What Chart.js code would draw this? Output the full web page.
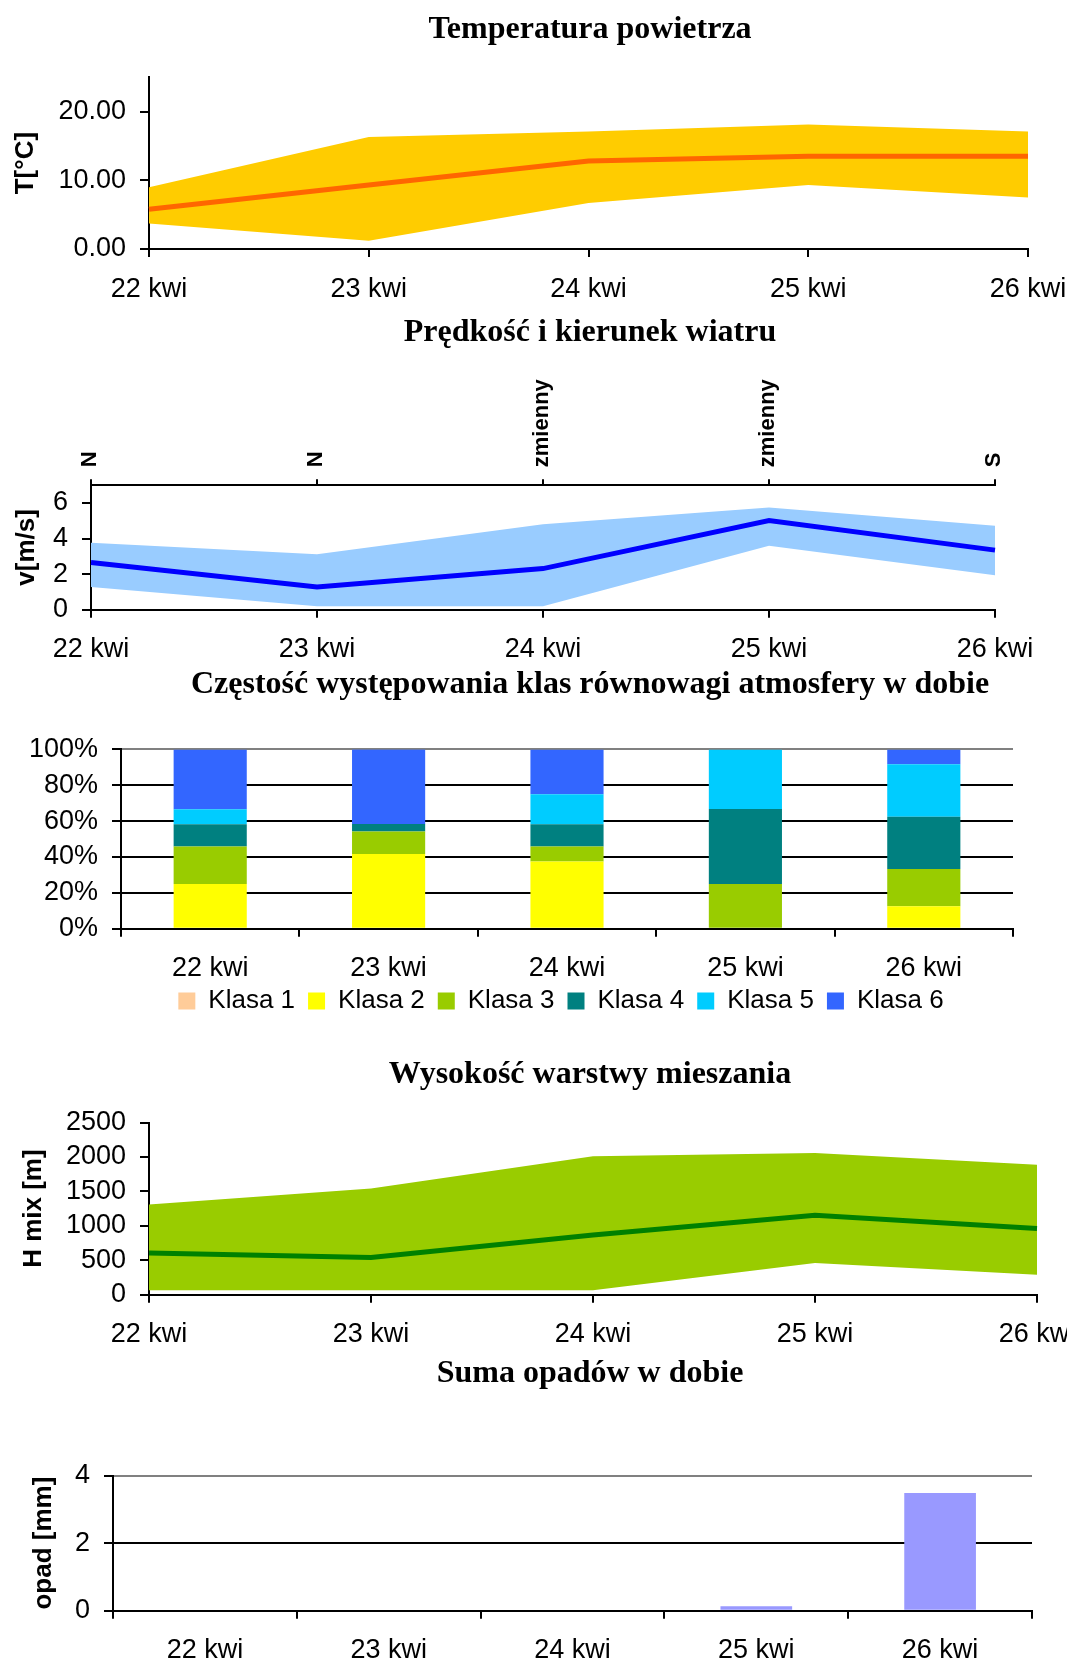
<!DOCTYPE html>
<html><head><meta charset="utf-8">
<script src="https://cdn.jsdelivr.net/npm/chart.js@4.4.1/dist/chart.umd.min.js"></script>
<style>
html,body{margin:0;padding:0;background:#fff;overflow:hidden;width:1067px;height:1664px;position:relative;}
canvas{position:absolute;left:0;}
</style></head><body>
<canvas id="c1"></canvas>
<canvas id="c2"></canvas>
<canvas id="c3"></canvas>
<canvas id="c4"></canvas>
<canvas id="c5"></canvas>
<script>
// ---- data ----
const days = ['22 kwi', '23 kwi', '24 kwi', '25 kwi', '26 kwi'];

const tempMean = [5.8, 9.3, 12.8, 13.5, 13.5];
const tempMax  = [9.0, 16.3, 17.1, 18.1, 17.1];
const tempMin  = [3.7, 1.2, 6.7, 9.3, 7.5];
const tempTicks = [0, 10, 20];

const windDir  = ['N', 'N', 'zmienny', 'zmienny', 'S'];
const windMean = [2.65, 1.28, 2.31, 5.01, 3.35];
const windMax  = [3.76, 3.12, 4.81, 5.75, 4.72];
const windMin  = [1.28, 0.19, 0.19, 3.59, 1.94];
const windTicks = [0, 2, 4, 6];

const klasa1 = [0, 0, 0, 0, 0];
const klasa2 = [25.0, 41.7, 37.5, 0, 12.5];
const klasa3 = [20.8, 12.5, 8.3, 25.0, 20.8];
const klasa4 = [12.5, 4.2, 12.5, 41.7, 29.2];
const klasa5 = [8.3, 0, 16.7, 33.3, 29.2];
const klasa6 = [33.3, 41.7, 25.0, 0, 8.3];
const klasaNames = ['Klasa 1', 'Klasa 2', 'Klasa 3', 'Klasa 4', 'Klasa 5', 'Klasa 6'];
const pctTicks = [0, 20, 40, 60, 80, 100];

const hmixMean = [606, 539, 866, 1154, 962];
const hmixMax  = [1309, 1540, 2011, 2059, 1886];
const hmixMin  = [63, 63, 63, 462, 289];
const hmixTicks = [0, 500, 1000, 1500, 2000, 2500];

const rain = [0, 0, 0, 0.13, 3.48];
const rainTicks = [0, 2, 4];

// ---- styling helpers ----
const SANS = "'Liberation Sans', Arial, sans-serif";
const SERIF = "'Liberation Serif', 'Times New Roman', serif";
const TICK = 27;
Chart.defaults.color = '#000';
Chart.defaults.font.family = SANS;
Chart.defaults.font.size = TICK;
Chart.defaults.animation = false;

const shiftPlugin = {
  id: 'shift',
  afterLayout(chart, args, opts) {
    if (opts.titleCenter != null && chart.titleBlock) {
      const t = chart.titleBlock;
      const d = opts.titleCenter - (t.left + t.right) / 2;
      t.left += d; t.right += d;
    }
    if (opts.legendCenterX != null && chart.legend && chart.legend.options.display) {
      const l = chart.legend;
      const dx = opts.legendCenterX - (l.left + l.right) / 2;
      l.left += dx; l.right += dx;
      const lo = l.options.labels;
      const ih = Math.max(lo.font.size || 26, lo.boxHeight || 26);
      const dy = opts.legendCenterY - (l.top + lo.padding + ih / 2);
      l.top += dy; l.bottom += dy;
    }
  }
};

function setupCanvas(id, top, w, h) {
  const c = document.getElementById(id);
  c.width = w; c.height = h;
  c.style.top = top + 'px';
  c.style.width = w + 'px'; c.style.height = h + 'px';
  return c;
}

function titleOpts(text, padTop, padBottom) {
  return {
    display: true, text,
    color: '#000',
    font: { family: SERIF, size: 32, weight: 'bold', lineHeight: 1.2 },
    padding: { top: padTop, bottom: padBottom }
  };
}

function yAxis(o) {
  return {
    min: o.min, max: o.max,
    stacked: !!o.stacked,
    ticks: { padding: 14, autoSkip: false, font: { size: TICK }, callback: o.cb || (v => v) },
    afterBuildTicks: s => { s.ticks = o.ticks.map(v => ({ value: v })); },
    grid: o.grid || { drawOnChartArea: false, tickLength: 9, color: '#000', tickColor: '#000', lineWidth: 2 },
    border: { color: '#000', width: 2 },
    title: { display: !!o.title, text: o.title, font: { size: 26, weight: 'bold', lineHeight: 1.2 },
             padding: { top: o.titleCenter - 15.6, bottom: 0 } },
    afterFit: s => { s.width = o.width; s.paddingTop = 0; s.paddingBottom = 0; }
  };
}

function xAxis(o) {
  return {
    offset: !!o.offset,
    stacked: !!o.stacked,
    ticks: { padding: 16, autoSkip: false, maxRotation: 0, minRotation: 0, font: { size: TICK } },
    grid: o.grid || { drawOnChartArea: false, tickLength: 8, color: '#000', tickColor: '#000', lineWidth: 2 },
    border: { color: '#000', width: 2 },
    afterFit: s => { s.height = o.height; s.paddingLeft = 0; s.paddingRight = 0; }
  };
}

function bandDatasets(mean, hi, lo, lineColor, fillColor) {
  return [
    { data: mean, borderColor: lineColor, borderWidth: 5, pointRadius: 0, tension: 0, fill: false },
    { data: hi, borderColor: fillColor, borderWidth: 0, pointRadius: 0, tension: 0, fill: '+1', backgroundColor: fillColor },
    { data: lo, borderColor: fillColor, borderWidth: 0, pointRadius: 0, tension: 0, fill: false }
  ];
}

// ---- Chart 1: temperature ----
new Chart(setupCanvas('c1', 2, 1067, 310), {
  type: 'line',
  data: { labels: days, datasets: bandDatasets(tempMean, tempMax, tempMin, '#FF6600', '#FFCC00') },
  options: {
    responsive: false,
    layout: { padding: { left: 0, right: 39, top: 0, bottom: 0 } },
    plugins: {
      legend: { display: false }, tooltip: { enabled: false },
      title: titleOpts('Temperatura powietrza', 8.4, 28.4),
      shift: { titleCenter: 590 }
    },
    scales: {
      x: xAxis({ height: 63 }),
      y: yAxis({ min: 0, max: 25, ticks: tempTicks, width: 149, title: 'T[°C]', titleCenter: 26,
                 cb: v => Number(v).toFixed(2) })
    }
  },
  plugins: [shiftPlugin]
});

// ---- Chart 2: wind ----
new Chart(setupCanvas('c2', 306, 1067, 360), {
  type: 'line',
  data: { labels: days, datasets: bandDatasets(windMean, windMax, windMin, '#0000FF', '#99CCFF') },
  options: {
    responsive: false,
    layout: { padding: { left: 0, right: 72, top: 0, bottom: 0 } },
    plugins: {
      legend: { display: false }, tooltip: { enabled: false },
      title: titleOpts('Prędkość i kierunek wiatru', 7.4, 5.4),
      shift: { titleCenter: 590 }
    },
    scales: {
      x: xAxis({ height: 56.3 }),
      x2: {
        type: 'category', labels: windDir, position: 'top', offset: false,
        ticks: { padding: 12, autoSkip: false, minRotation: 90, maxRotation: 90, labelOffset: 25,
                 font: { family: SANS, size: 22, weight: 'bold' } },
        grid: { drawOnChartArea: false, tickLength: 6, color: '#000', tickColor: '#000', lineWidth: 2 },
        border: { color: '#000', width: 2 },
        afterFit: s => { s.height = 128; s.paddingLeft = 0; s.paddingRight = 0; }
      },
      y: yAxis({ min: 0, max: 7, ticks: windTicks, width: 91, title: 'v[m/s]', titleCenter: 27 })
    }
  },
  plugins: [shiftPlugin]
});

// ---- Chart 3: stability classes ----
const klasaData = [klasa1, klasa2, klasa3, klasa4, klasa5, klasa6];
const klasaColors = ['#FFCC99', '#FFFF00', '#99CC00', '#008080', '#00CCFF', '#3366FF'];
new Chart(setupCanvas('c3', 657, 1067, 375), {
  type: 'bar',
  data: {
    labels: days,
    datasets: klasaData.map((d, i) => ({
      label: klasaNames[i], data: d, backgroundColor: klasaColors[i], borderWidth: 0,
      barPercentage: 0.41, categoryPercentage: 1
    }))
  },
  options: {
    responsive: false,
    layout: { padding: { left: 0, right: 54, top: 0, bottom: 0 } },
    plugins: {
      legend: { display: true, position: 'bottom',
                labels: { boxWidth: 17, boxHeight: 17, padding: 13, color: '#000', font: { size: 26 } } },
      tooltip: { enabled: false },
      title: titleOpts('Częstość występowania klas równowagi atmosfery w dobie', 8.4, 45.6),
      shift: { titleCenter: 590, legendCenterX: 561, legendCenterY: 344 }
    },
    scales: {
      x: xAxis({ height: 54.3, offset: true, stacked: true,
                 grid: { drawOnChartArea: true, offset: true, tickLength: 8, lineWidth: 2, tickColor: '#000',
                         color: c => c.index === days.length ? '#808080' : 'rgba(0,0,0,0)' } }),
      y: yAxis({ min: 0, max: 100, ticks: pctTicks, width: 121, title: '', titleCenter: 20, stacked: true,
                 cb: v => v + '%',
                 grid: { drawOnChartArea: true, tickLength: 9, lineWidth: 2, tickColor: '#000',
                         color: c => (c.tick && c.tick.value === 100) ? '#808080' : '#000' } })
    }
  },
  plugins: [shiftPlugin]
});

// ---- Chart 4: mixing height ----
new Chart(setupCanvas('c4', 1032, 1067, 330), {
  type: 'line',
  data: { labels: days, datasets: bandDatasets(hmixMean, hmixMax, hmixMin, '#008000', '#99CC00') },
  options: {
    responsive: false,
    layout: { padding: { left: 0, right: 30, top: 0, bottom: 0 } },
    plugins: {
      legend: { display: false }, tooltip: { enabled: false },
      title: titleOpts('Wysokość warstwy mieszania', 23.4, 28.7),
      shift: { titleCenter: 590 }
    },
    scales: {
      x: xAxis({ height: 67.3 }),
      y: yAxis({ min: 0, max: 2500, ticks: hmixTicks, width: 149, title: 'H mix [m]', titleCenter: 34 })
    }
  },
  plugins: [shiftPlugin]
});

// ---- Chart 5: precipitation ----
new Chart(setupCanvas('c5', 1345, 1067, 319), {
  type: 'bar',
  data: { labels: days, datasets: [{ data: rain, backgroundColor: '#9999FF', borderWidth: 0,
                                     barPercentage: 0.39, categoryPercentage: 1 }] },
  options: {
    responsive: false,
    layout: { padding: { left: 0, right: 35, top: 0, bottom: 0 } },
    plugins: {
      legend: { display: false }, tooltip: { enabled: false },
      title: titleOpts('Suma opadów w dobie', 9.4, 82.7),
      shift: { titleCenter: 590 }
    },
    scales: {
      x: xAxis({ height: 53.3, offset: true,
                 grid: { drawOnChartArea: true, offset: true, tickLength: 8, lineWidth: 2, tickColor: '#000',
                         color: c => c.index === days.length ? '#808080' : 'rgba(0,0,0,0)' } }),
      y: yAxis({ min: 0, max: 4, ticks: rainTicks, width: 113, title: 'opad [mm]', titleCenter: 44,
                 grid: { drawOnChartArea: true, tickLength: 9, lineWidth: 2, tickColor: '#000',
                         color: c => (c.tick && c.tick.value === 4) ? '#808080' : '#000' } })
    }
  },
  plugins: [shiftPlugin]
});
</script>
</body></html>
